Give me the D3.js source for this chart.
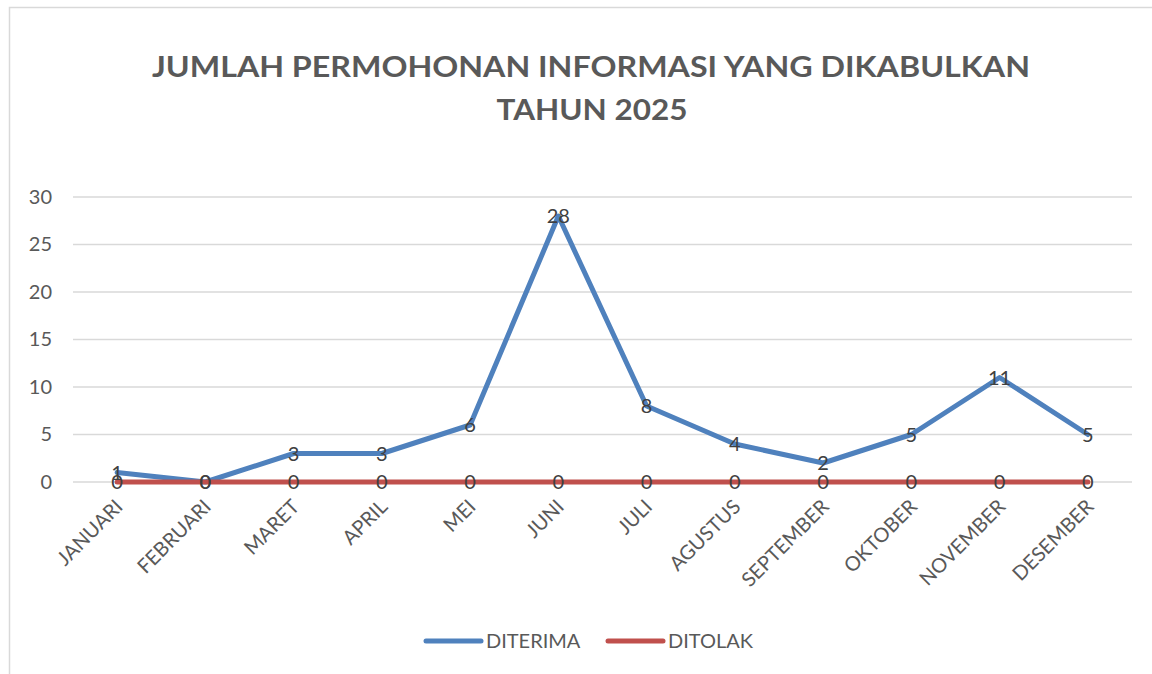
<!DOCTYPE html>
<html>
<head>
<meta charset="utf-8">
<script src="https://cdn.jsdelivr.net/npm/d3@7"></script>
<style>
  body { margin: 0; background: #fff; }
  text { font-family: Lato, "Open Sans", sans-serif; }
</style>
</head>
<body>
<svg id="chart" width="1152" height="674"></svg>
<script>
// data
const months = ["JANUARI", "FEBRUARI", "MARET", "APRIL", "MEI", "JUNI", "JULI",
    "AGUSTUS", "SEPTEMBER", "OKTOBER", "NOVEMBER", "DESEMBER"];
const diterima = [1, 0, 3, 3, 6, 28, 8, 4, 2, 5, 11, 5];
const ditolak = [0, 0, 0, 0, 0, 0, 0, 0, 0, 0, 0, 0];
const yTicks = [0, 5, 10, 15, 20, 25, 30];
const seriesNames = ["DITERIMA", "DITOLAK"];
const seriesColors = ["#4F81BD", "#C0504D"];

const svg = d3.select("#chart");
let fontSize = 20;

// chart border
svg.append("rect")
    .attr("x", 9.5)
    .attr("y", 7.5)
    .attr("width", 1160)
    .attr("height", 700)
    .attr("fill", "#fff")
    .attr("stroke", "#D9D9D9")
    .attr("stroke-width", 1.5);

// title
svg.append("text")
    .attr("x", 591)
    .attr("y", 77)
    .attr("text-anchor", "middle")
    .attr("font-size", 29)
    .attr("font-weight", "bold")
    .attr("fill", "#595959")
    .attr("textLength", 878)
    .attr("lengthAdjust", "spacingAndGlyphs")
    .text("JUMLAH PERMOHONAN INFORMASI YANG DIKABULKAN");
svg.append("text")
    .attr("x", 592)
    .attr("y", 120)
    .attr("text-anchor", "middle")
    .attr("font-size", 29)
    .attr("font-weight", "bold")
    .attr("fill", "#595959")
    .attr("textLength", 191)
    .attr("lengthAdjust", "spacingAndGlyphs")
    .text("TAHUN 2025");

let xScale = d3.scaleBand()
    .domain(months)
    .range([73, 1132]);
let yScale = d3.scaleLinear()
    .domain([0, 30])
    .range([482, 197]);

const cx = d => xScale(d) + xScale.bandwidth() / 2;

// gridlines
svg.append("g")
    .selectAll("line")
    .data(yTicks)
    .join("line")
    .attr("x1", 73)
    .attr("x2", 1132)
    .attr("y1", d => yScale(d))
    .attr("y2", d => yScale(d))
    .attr("stroke", "#D9D9D9")
    .attr("stroke-width", 1.5);

// y axis labels
const yAxis = svg.append("g")
    .attr("transform", "translate(60,0)")
    .call(d3.axisLeft(yScale).tickValues(yTicks).tickSize(0).tickPadding(8));
yAxis.select(".domain").remove();
yAxis.selectAll("text")
    .attr("font-size", fontSize)
    .attr("fill", "#595959")
    .attr("font-family", "Lato, 'Open Sans', sans-serif");

// x axis labels
svg.append("g")
    .selectAll("text")
    .data(months)
    .join("text")
    .attr("transform", d => `translate(${cx(d) + 2},${503}) rotate(-45)`)
    .attr("text-anchor", "end")
    .attr("dy", "0.35em")
    .attr("font-size", fontSize)
    .attr("fill", "#595959")
    .text(d => d);

// lines
const line = d3.line()
    .x((d, i) => cx(months[i]))
    .y(d => yScale(d));

[diterima, ditolak].forEach((s, k) => {
    svg.append("path")
        .datum(s)
        .attr("d", line)
        .attr("fill", "none")
        .attr("stroke", seriesColors[k])
        .attr("stroke-width", 5)
        .attr("stroke-linejoin", "round")
        .attr("stroke-linecap", "round");
});

// data labels (centered on points)
[diterima, ditolak].forEach(s => {
    svg.append("g")
        .selectAll("text")
        .data(s)
        .join("text")
        .attr("x", (d, i) => cx(months[i]))
        .attr("y", d => yScale(d))
        .attr("dy", "0.35em")
        .attr("text-anchor", "middle")
        .attr("font-size", fontSize)
        .attr("fill", "#404040")
        .text(d => d);
});

// legend
const legendX = [426, 608];
seriesNames.forEach((name, k) => {
    const g = svg.append("g").attr("transform", `translate(${legendX[k]},641)`);
    g.append("line")
        .attr("x1", 0).attr("x2", 55)
        .attr("stroke", seriesColors[k])
        .attr("stroke-width", 5)
        .attr("stroke-linecap", "round");
    g.append("text")
        .attr("x", 60)
        .attr("dy", "0.35em")
        .attr("font-size", fontSize)
        .attr("fill", "#595959")
        .text(name);
});
</script>
</body>
</html>
